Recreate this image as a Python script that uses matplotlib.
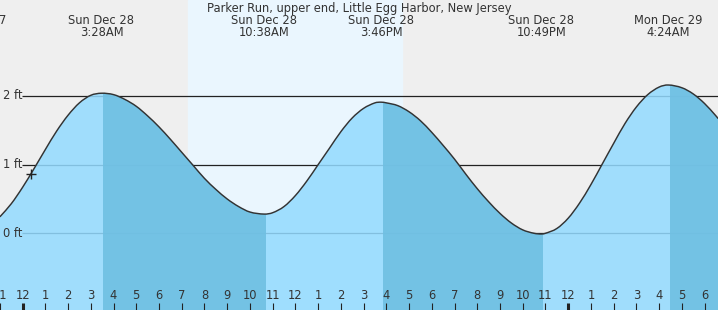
import matplotlib

matplotlib.use("Agg")
import matplotlib.pyplot as plt
from matplotlib.patches import PathPatch, Rectangle
from matplotlib.path import Path

plt.rcParams["font.family"] = ["DejaVu Sans"]

# hours since midnight Sun Dec 28, tide height in ft
times = [-1.0, -0.5, 0.0, 0.5, 1.0, 1.5, 2.0, 2.5, 3.0, 3.467,
         4.0, 4.5, 5.0, 5.5, 6.0, 6.5, 7.0, 7.5, 8.0, 8.5,
         9.0, 9.5, 10.0, 10.633, 11.0, 11.5, 12.0, 12.5, 13.0, 13.5,
         14.0, 14.5, 15.0, 15.5, 15.767, 16.0, 16.5, 17.0, 17.5, 18.0,
         18.5, 19.0, 19.5, 20.0, 20.5, 21.0, 21.5, 22.0, 22.5, 22.817,
         23.0, 23.5, 24.0, 24.5, 25.0, 25.5, 26.0, 26.5, 27.0, 27.5,
         28.0, 28.4, 29.0, 29.5, 30.0, 30.5, 30.6]
heights = [0.24, 0.43, 0.67, 0.94, 1.22, 1.49, 1.72, 1.90, 2.01, 2.04,
           2.02, 1.95, 1.85, 1.71, 1.55, 1.37, 1.18, 0.99, 0.80, 0.64,
           0.50, 0.39, 0.31, 0.28, 0.30, 0.39, 0.55, 0.76, 1.00, 1.24,
           1.48, 1.68, 1.82, 1.90, 1.91, 1.90, 1.86, 1.77, 1.64, 1.47,
           1.28, 1.08, 0.86, 0.65, 0.46, 0.29, 0.15, 0.05, 0.00, -0.01,
           0.00, 0.07, 0.22, 0.44, 0.71, 1.01, 1.31, 1.60, 1.84, 2.02,
           2.13, 2.16, 2.12, 2.03, 1.89, 1.71, 1.67]

# high / low tides
ext_times = [-2.1, 3.467, 10.633, 15.767, 22.817, 28.4]
ext_days = ["Sat Dec 27", "Sun Dec 28", "Sun Dec 28", "Sun Dec 28", "Sun Dec 28", "Mon Dec 29"]
ext_clock = ["9:54PM", "3:28AM", "10:38AM", "3:46PM", "10:49PM", "4:24AM"]
ext_kind = ["low", "high", "low", "high", "low", "high"]

sunrise, sunset = 7.28, 16.69
now_time, now_height = 0.35, 0.87
levels = [0, 1, 2]
level_labels = ["0 ft", "1 ft", "2 ft"]
hours = list(range(-1, 31))

X0, X1 = -0.994, 30.59
Y0, Y1 = -1.117, 3.398

bg = "#efefef"
day = "#eaf6fe"
light = "#93daff"
dark = "#6fbfe2"
txt = "#333333"


def smooth_verts(xs, ys):
    # cubic hermite through the read points, written as bezier segments
    n = len(xs)
    slopes = []
    for i in range(n):
        a, b = max(i - 1, 0), min(i + 1, n - 1)
        slopes.append((ys[b] - ys[a]) / (xs[b] - xs[a]))
    verts = [(xs[0], ys[0])]
    codes = [Path.MOVETO]
    for i in range(n - 1):
        d = (xs[i + 1] - xs[i]) / 3
        verts += [(xs[i] + d, ys[i] + d * slopes[i]),
                  (xs[i + 1] - d, ys[i + 1] - d * slopes[i + 1]),
                  (xs[i + 1], ys[i + 1])]
        codes += [Path.CURVE4] * 3
    return verts, codes


curve_v, curve_c = smooth_verts(times, heights)
area_path = Path(curve_v + [(times[-1], Y0 - 1), (times[0], Y0 - 1), (times[0], heights[0])],
                 curve_c + [Path.LINETO, Path.LINETO, Path.CLOSEPOLY])
line_path = Path(curve_v, curve_c)

fig = plt.figure(figsize=(7.18, 3.10), dpi=100)
fig.patch.set_facecolor(bg)
ax = fig.add_axes([0, 0, 1, 1])
ax.set_facecolor(bg)
ax.set_xlim(X0, X1)
ax.set_ylim(Y0, Y1)
ax.axis("off")

ax.axvspan(sunrise, sunset, color=day, zorder=0)

# level lines (under the fill, show through it faintly)
ax.hlines(levels, -0.03, X1, color="#222222", lw=0.9, zorder=1)
for lv, lab in zip(levels, level_labels):
    ax.text(0.004, lv, lab, transform=ax.get_yaxis_transform(), ha="left", va="center",
            fontsize=8.3, color=txt, zorder=5)

ax.add_patch(PathPatch(area_path, facecolor=light, alpha=0.86, lw=0, zorder=2))

# falling tide: darker
for i in range(len(ext_times)):
    if ext_kind[i] != "high":
        continue
    end = ext_times[i + 1] if i + 1 < len(ext_times) else X1 + 1
    patch = ax.add_patch(PathPatch(area_path, facecolor=dark, alpha=0.9, lw=0, zorder=3))
    clip = Rectangle((ext_times[i] + 0.08, Y0 - 1), end - ext_times[i], 10, transform=ax.transData)
    patch.set_clip_path(clip)

ax.add_patch(PathPatch(line_path, facecolor="none", edgecolor="#333333", lw=1.05, zorder=4))
ax.plot([now_time], [now_height], marker="+", color="#222222", ms=7, mew=1.0, zorder=5)

# hour ticks along the bottom
xt = ax.get_xaxis_transform()
for h in hours:
    midnight = h % 24 == 0
    ax.plot([h, h], [0, 0.024], transform=xt, color="#222222",
            lw=2.2 if midnight else 0.8, solid_capstyle="butt", zorder=5)
    lab = str(h % 12 if h % 12 else 12)
    ax.text(h, 0.046, lab, transform=xt, ha="center", va="center", fontsize=8.3, color=txt, zorder=5)

# extreme labels along the top
for t, d, c in zip(ext_times, ext_days, ext_clock):
    ax.text(t, 0.935, d, transform=xt, ha="center", va="center", fontsize=8.3, color=txt, zorder=5)
    ax.text(t, 0.895, c, transform=xt, ha="center", va="center", fontsize=8.3, color=txt, zorder=5)

ax.text(0.5, 0.974, "Parker Run, upper end, Little Egg Harbor, New Jersey", transform=ax.transAxes,
        ha="center", va="center", fontsize=8.3, color=txt, zorder=5)

fig.savefig("out.png", dpi=100, facecolor=bg)
